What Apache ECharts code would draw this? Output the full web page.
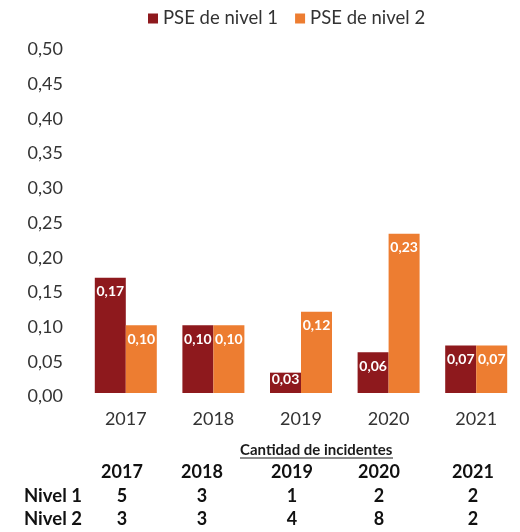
<!DOCTYPE html>
<html>
<head>
<meta charset="utf-8">
<script src="https://cdn.jsdelivr.net/npm/echarts@6/dist/echarts.min.js"></script>
<style>
  html, body { margin: 0; padding: 0; background: #fff; }
  #chart { width: 520px; height: 532px; }
</style>
</head>
<body>
<div id="chart"></div>
<script>
// datos del grafico
var years = ["2017", "2018", "2019", "2020", "2021"];
var pseNivel1 = [0.17, 0.10, 0.03, 0.06, 0.07];
var pseNivel2 = [0.10, 0.10, 0.12, 0.235, 0.07];
// cantidad de incidentes
var incNivel1 = [5, 3, 1, 2, 2];
var incNivel2 = [3, 3, 4, 8, 2];

var colorN1 = "#8E191D";
var colorN2 = "#ED7D31";
var font = "Lato, 'Open Sans', sans-serif";

function fmt(v) {
  return v.toFixed(2).replace(".", ",");
}

function buildData(values) {
  return values.map(function (v) {
    // barras muy bajas: etiqueta pegada al borde
    if (v < 0.05) {
      return { value: v, label: { distance: 0 } };
    }
    return v;
  });
}

// tabla "Cantidad de incidentes"
var tableColX = [122, 202, 292, 379, 473];
var tableGraphics = [];
tableGraphics.push({
  type: "text", x: 240, y: 450,
  style: { text: "Cantidad de incidentes", font: "bold 15px " + font, fill: "#1a1a1a", verticalAlign: "middle" }
});
tableGraphics.push({
  type: "line", shape: { x1: 240, y1: 458, x2: 393, y2: 458 },
  style: { stroke: "#1a1a1a", lineWidth: 1 }
});
var rows = [
  { y: 472, label: "", vals: years },
  { y: 496, label: "Nivel 1", vals: incNivel1 },
  { y: 519, label: "Nivel 2", vals: incNivel2 }
];
rows.forEach(function (r) {
  if (r.label) {
    tableGraphics.push({
      type: "text", x: 24, y: r.y,
      style: { text: r.label, font: "bold 18.5px " + font, fill: "#111", verticalAlign: "middle" }
    });
  }
  r.vals.forEach(function (v, i) {
    tableGraphics.push({
      type: "text", x: tableColX[i], y: r.y,
      style: { text: String(v), font: "bold 18px " + font, fill: "#111", align: "center", verticalAlign: "middle" }
    });
  });
});

var barLabel = {
  show: true,
  position: "insideTop",
  distance: 7,
  color: "#fff",
  fontWeight: "bold",
  fontSize: 14,
  fontFamily: font,
  formatter: function (p) { return fmt(p.value); }
};

var chartDom = document.getElementById("chart");
var myChart = echarts.init(chartDom);
var option = {
  animation: false,
  textStyle: { fontFamily: font },
  legend: {
    top: 4,
    left: 143,
    itemWidth: 10,
    itemHeight: 10,
    itemGap: 17,
    icon: "rect",
    textStyle: { fontSize: 18.5, color: "#333", fontFamily: font },
    data: ["PSE de nivel 1", "PSE de nivel 2"]
  },
  grid: [
    // barras
    { left: 82, top: 54, width: 443, height: 339 },
    // solo para las etiquetas del eje Y
    { left: 82, top: 49.5, width: 443, height: 347 }
  ],
  xAxis: [
    {
      type: "category",
      gridIndex: 0,
      data: years,
      axisLine: { show: false },
      axisTick: { show: false },
      axisLabel: { margin: 17, fontSize: 18, color: "#333", fontFamily: font }
    },
    { type: "category", gridIndex: 1, data: years, show: false }
  ],
  yAxis: [
    {
      type: "value",
      gridIndex: 0,
      min: 0,
      max: 0.5,
      interval: 0.05,
      show: false
    },
    {
      type: "value",
      gridIndex: 1,
      min: 0,
      max: 0.5,
      interval: 0.05,
      splitLine: { show: false },
      axisLine: { show: false },
      axisTick: { show: false },
      axisLabel: {
        margin: 19,
        fontSize: 18,
        color: "#333",
        fontFamily: font,
        formatter: function (v) { return fmt(v); }
      }
    }
  ],
  series: [
    {
      name: "PSE de nivel 1",
      type: "bar",
      barWidth: 31,
      barGap: "0%",
      itemStyle: { color: colorN1 },
      label: barLabel,
      data: buildData(pseNivel1)
    },
    {
      name: "PSE de nivel 2",
      type: "bar",
      barWidth: 31,
      barGap: "0%",
      itemStyle: { color: colorN2 },
      label: barLabel,
      data: buildData(pseNivel2)
    }
  ],
  graphic: tableGraphics
};
option && myChart.setOption(option);
</script>
</body>
</html>
